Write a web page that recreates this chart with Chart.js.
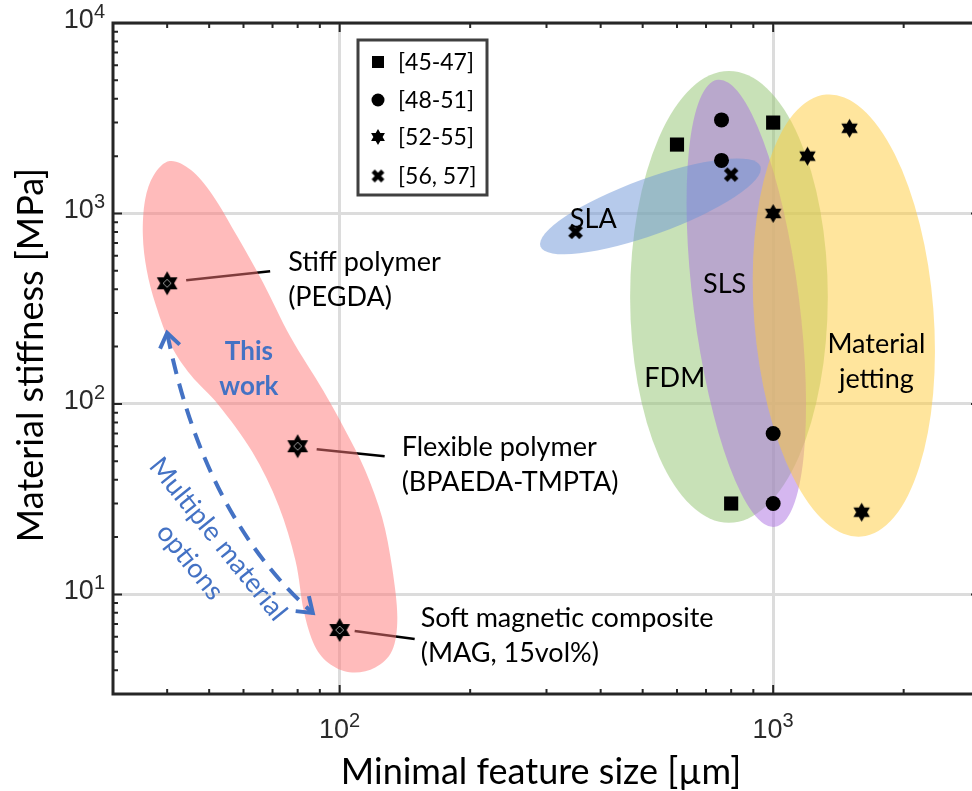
<!DOCTYPE html>
<html lang="en">
<head>
<meta charset="utf-8">
<title>Material stiffness vs minimal feature size</title>
<script src="https://cdn.jsdelivr.net/npm/chart.js@4.4.1/dist/chart.umd.min.js"></script>
<style>
	html, body { margin: 0; padding: 0; background: #fff; overflow: hidden; }
	#contenedor { width: 972px; height: 791px; overflow: hidden; }
	#grafico { display: block; }
</style>
</head>
<body>
<div id="contenedor"><canvas id="grafico" width="990" height="791"></canvas></div>
<script>
// Datos
const cuadrados_x = [600, 1000, 800];
const cuadrados_y = [2300, 3000, 30];
const circulos_x = [760, 760, 1000, 1000];
const circulos_y = [3100, 1900, 70, 30];
const estrellas_x = [1200, 1500, 1000, 1600];
const estrellas_y = [2000, 2800, 1000, 27];
const cruces_x = [800, 350];
const cruces_y = [1600, 800];
const trabajo_x = [40, 80, 100];
const trabajo_y = [430, 60, 6.5];

const leyendaTextos = ['[45-47]', '[48-51]', '[52-55]', '[56, 57]'];
const trabajoTextos = [
	['Stiff polymer', '(PEGDA)'],
	['Flexible polymer', '(BPAEDA-TMPTA)'],
	['Soft magnetic composite', '(MAG, 15vol%)'],
];
const ticksX = [100, 1000];
const ticksY = [10, 100, 1000, 10000];
const tituloX = 'Minimal feature size [µm]';
const tituloY = 'Material stiffness [MPa]';

// Regiones de cada técnica (centro en log10, semiejes en décadas, giro en grados)
const elipses = [
	{ centro: [2.898, 2.562], rx: 0.228, ry: 1.186, giro: 0, color: 'rgba(146, 196, 112, 0.5)' },
	{ centro: [2.938, 2.528], rx: 0.122, ry: 1.183, giro: -7.3, color: 'rgba(172, 112, 226, 0.5)' },
	{ centro: [3.163, 2.464], rx: 0.207, ry: 1.164, giro: -4.5, color: 'rgba(255, 204, 60, 0.5)' },
	{ centro: [2.717, 3.037], rx: 0.27, ry: 0.147, giro: -20, color: 'rgba(110, 150, 215, 0.5)' },
];
const etiquetasRegion = [
	{ texto: 'SLA', pos: [2.585, 2.924] },
	{ texto: 'SLS', pos: [2.888, 2.583] },
	{ texto: 'FDM', pos: [2.773, 2.089] },
	{ texto: 'Material', pos: [3.238, 2.268] },
	{ texto: 'jetting', pos: [3.238, 2.084] },
];

// Contorno de "This work" (log10 x, log10 y)
const contornoRojo = [
	[1.608, 3.275], [1.657, 3.228], [1.707, 3.096], [1.765, 2.875], [1.824, 2.634],
	[1.887, 2.35], [1.962, 2.071], [2.013, 1.861], [2.059, 1.651], [2.098, 1.404],
	[2.121, 1.141], [2.133, 0.879], [2.121, 0.705], [2.082, 0.616], [2.029, 0.59],
	[1.979, 0.632], [1.942, 0.732], [1.917, 0.915], [1.898, 1.178], [1.859, 1.467],
	[1.799, 1.746], [1.721, 1.993], [1.657, 2.15], [1.611, 2.308], [1.576, 2.518],
	[1.555, 2.702], [1.546, 2.886], [1.551, 3.07], [1.571, 3.201],
];
// Flecha discontinua (inicio, control, fin en log10)
const flecha = [[1.602, 2.373], [1.687, 1.407], [1.938, 0.903]];

const azul = '#4472c4';
const fuenteTexto = 'Lato, "Noto Sans", sans-serif';
const fuenteEjes = '"Liberation Sans", Arial, sans-serif';

function puntos(xs, ys) {
	return xs.map((x, i) => ({ x: x, y: ys[i] }));
}

function esDecada(v) {
	const l = Math.log10(v);
	return Math.abs(l - Math.round(l)) < 1e-9;
}

// Marcadores dibujados en canvas aparte
function crearHexagrama(R, conRombo) {
	const c = document.createElement('canvas');
	const s = Math.ceil(2 * R + 4);
	c.width = s;
	c.height = s;
	const g = c.getContext('2d');
	const m = s / 2;
	g.fillStyle = '#000';
	g.beginPath();
	for (let k = 0; k < 12; k++) {
		const r = k % 2 === 0 ? R : R / Math.sqrt(3);
		const a = -Math.PI / 2 + (k * Math.PI) / 6;
		const px = m + r * Math.cos(a);
		const py = m + r * Math.sin(a);
		if (k === 0) g.moveTo(px, py);
		else g.lineTo(px, py);
	}
	g.closePath();
	g.fill();
	if (conRombo) {
		g.strokeStyle = '#9a9a9a';
		g.lineWidth = 1;
		g.beginPath();
		g.moveTo(m, m - 4);
		g.lineTo(m + 4, m);
		g.lineTo(m, m + 4);
		g.lineTo(m - 4, m);
		g.closePath();
		g.stroke();
	}
	return c;
}

function crearCruz(L, ancho) {
	const c = document.createElement('canvas');
	const s = Math.ceil(2 * L + ancho + 2);
	c.width = s;
	c.height = s;
	const g = c.getContext('2d');
	const m = s / 2;
	g.strokeStyle = '#000';
	g.lineWidth = ancho;
	g.beginPath();
	g.moveTo(m - L, m - L);
	g.lineTo(m + L, m + L);
	g.moveTo(m + L, m - L);
	g.lineTo(m - L, m + L);
	g.stroke();
	return c;
}

const imgEstrella = crearHexagrama(9.5, false);
const imgCruz = crearCruz(5.5, 5);
const imgTrabajo = crearHexagrama(12, true);
const imgEstrellaLey = crearHexagrama(8, false);
const imgCruzLey = crearCruz(4.8, 4.5);

function puntaFlecha(ctx, tx, ty, dx, dy, largo, ancho) {
	const a = Math.atan2(ty - dy, tx - dx);
	const c = Math.cos(a);
	const s = Math.sin(a);
	ctx.beginPath();
	ctx.moveTo(tx - largo * c + ancho * s, ty - largo * s - ancho * c);
	ctx.lineTo(tx, ty);
	ctx.lineTo(tx - largo * c - ancho * s, ty - largo * s + ancho * c);
	ctx.stroke();
}

const anotaciones = {
	id: 'anotaciones',
	beforeDatasetsDraw(chart) {
		const { ctx, scales } = chart;
		const px = (l) => scales.x.getPixelForValue(10 ** l);
		const py = (l) => scales.y.getPixelForValue(10 ** l);
		ctx.save();

		// Líneas guía de las etiquetas
		const guias = [
			[19, -3, 103, -12],
			[19, 3, 87, 10],
			[15, 1, 75, 9],
		];
		ctx.strokeStyle = '#000';
		ctx.lineWidth = 2.5;
		trabajo_x.forEach((v, i) => {
			const x0 = scales.x.getPixelForValue(v);
			const y0 = scales.y.getPixelForValue(trabajo_y[i]);
			const g = guias[i];
			ctx.beginPath();
			ctx.moveTo(x0 + g[0], y0 + g[1]);
			ctx.lineTo(x0 + g[2], y0 + g[3]);
			ctx.stroke();
		});

		// Zona roja
		const pts = contornoRojo.map(([lx, ly]) => [px(lx), py(ly)]);
		const n = pts.length;
		ctx.fillStyle = 'rgba(255, 120, 120, 0.5)';
		ctx.beginPath();
		ctx.moveTo(pts[0][0], pts[0][1]);
		for (let i = 0; i < n; i++) {
			const p0 = pts[(i - 1 + n) % n];
			const p1 = pts[i];
			const p2 = pts[(i + 1) % n];
			const p3 = pts[(i + 2) % n];
			ctx.bezierCurveTo(
				p1[0] + (p2[0] - p0[0]) / 6, p1[1] + (p2[1] - p0[1]) / 6,
				p2[0] - (p3[0] - p1[0]) / 6, p2[1] - (p3[1] - p1[1]) / 6,
				p2[0], p2[1]
			);
		}
		ctx.closePath();
		ctx.fill();

		// Elipses de las técnicas
		elipses.forEach((e) => {
			const cx = px(e.centro[0]);
			const cy = py(e.centro[1]);
			const rx = px(e.centro[0] + e.rx) - cx;
			const ry = cy - py(e.centro[1] + e.ry);
			ctx.fillStyle = e.color;
			ctx.beginPath();
			ctx.ellipse(cx, cy, rx, ry, (e.giro * Math.PI) / 180, 0, Math.PI * 2);
			ctx.fill();
		});

		// Flecha discontinua
		const [a, b, c] = flecha.map(([lx, ly]) => [px(lx), py(ly)]);
		ctx.strokeStyle = azul;
		ctx.lineWidth = 4;
		ctx.setLineDash([16, 10]);
		ctx.beginPath();
		ctx.moveTo(a[0], a[1]);
		ctx.quadraticCurveTo(b[0], b[1], c[0], c[1]);
		ctx.stroke();
		ctx.setLineDash([]);
		ctx.lineJoin = 'miter';
		puntaFlecha(ctx, a[0], a[1], b[0], b[1], 14, 10);
		puntaFlecha(ctx, c[0], c[1], b[0], b[1], 14, 10);

		// Textos de las regiones
		ctx.fillStyle = '#000';
		ctx.font = `27px ${fuenteTexto}`;
		ctx.textAlign = 'center';
		ctx.textBaseline = 'alphabetic';
		etiquetasRegion.forEach((t) => {
			ctx.fillText(t.texto, px(t.pos[0]), py(t.pos[1]));
		});

		// Etiquetas de los materiales
		const offs = [
			[121, -12, 23],
			[104, 10, 45],
			[81, -3, 32],
		];
		ctx.textAlign = 'left';
		trabajo_x.forEach((v, i) => {
			const x0 = scales.x.getPixelForValue(v);
			const y0 = scales.y.getPixelForValue(trabajo_y[i]);
			ctx.fillText(trabajoTextos[i][0], x0 + offs[i][0], y0 + offs[i][1]);
			ctx.fillText(trabajoTextos[i][1], x0 + offs[i][0], y0 + offs[i][2]);
		});

		// "This work"
		ctx.fillStyle = azul;
		ctx.textAlign = 'center';
		ctx.font = `bold 26px ${fuenteTexto}`;
		ctx.fillText('This', px(1.7906), py(2.231));
		ctx.fillText('work', px(1.7906), py(2.047));

		// Texto girado
		ctx.font = `27px ${fuenteTexto}`;
		ctx.textBaseline = 'middle';
		ctx.translate(px(1.687), py(1.231));
		ctx.rotate((51 * Math.PI) / 180);
		ctx.fillText('Multiple material', 0, -18);
		ctx.fillText('options', 0, 18);
		ctx.restore();
	},
	afterDraw(chart) {
		const { ctx, chartArea: area, scales } = chart;
		ctx.save();

		// Marco
		ctx.strokeStyle = '#262626';
		ctx.lineWidth = 3;
		ctx.strokeRect(area.left, area.top, area.right - area.left, area.bottom - area.top);

		// Marcas de escala
		ctx.lineWidth = 2;
		ctx.beginPath();
		[10, 100, 1000].forEach((d) => {
			for (let m = 1; m < 10; m++) {
				const v = m * d;
				if (v <= scales.x.min || v >= scales.x.max) continue;
				const xp = scales.x.getPixelForValue(v);
				const L = m === 1 ? 9 : 5;
				ctx.moveTo(xp, area.bottom);
				ctx.lineTo(xp, area.bottom - L);
				ctx.moveTo(xp, area.top);
				ctx.lineTo(xp, area.top + L);
			}
		});
		[1, 10, 100, 1000].forEach((d) => {
			for (let m = 1; m < 10; m++) {
				const v = m * d;
				if (v <= scales.y.min || v >= scales.y.max) continue;
				const yp = scales.y.getPixelForValue(v);
				const L = m === 1 ? 9 : 5;
				ctx.moveTo(area.left, yp);
				ctx.lineTo(area.left + L, yp);
				ctx.moveTo(area.right, yp);
				ctx.lineTo(area.right - L, yp);
			}
		});
		ctx.stroke();

		// Etiquetas 10^n
		ctx.fillStyle = '#2a2a2a';
		ctx.textBaseline = 'alphabetic';
		ctx.textAlign = 'left';
		const base = `27px ${fuenteEjes}`;
		const expo = `20px ${fuenteEjes}`;
		const medir = (e) => {
			ctx.font = base;
			const w1 = ctx.measureText('10').width;
			ctx.font = expo;
			const w2 = ctx.measureText(e).width;
			return [w1, w2];
		};
		ticksX.forEach((v) => {
			const e = String(Math.round(Math.log10(v)));
			const [w1, w2] = medir(e);
			const x0 = scales.x.getPixelForValue(v) - (w1 + w2) / 2;
			ctx.font = base;
			ctx.fillText('10', x0, 738);
			ctx.font = expo;
			ctx.fillText(e, x0 + w1, 727);
		});
		ticksY.forEach((v) => {
			const e = String(Math.round(Math.log10(v)));
			const [w1, w2] = medir(e);
			const yp = scales.y.getPixelForValue(v);
			const x0 = 105 - w1 - w2;
			ctx.font = base;
			ctx.fillText('10', x0, yp + 5);
			ctx.font = expo;
			ctx.fillText(e, x0 + w1, yp - 5);
		});

		// Títulos
		ctx.fillStyle = '#000';
		ctx.font = `36px ${fuenteTexto}`;
		ctx.textAlign = 'center';
		ctx.fillText(tituloX, 541, 784);
		ctx.translate(43, 355);
		ctx.rotate(-Math.PI / 2);
		ctx.fillText(tituloY, 0, 0);
		ctx.setTransform(chart.currentDevicePixelRatio, 0, 0, chart.currentDevicePixelRatio, 0, 0);

		// Leyenda
		const lx = area.left + 245;
		const ly = area.top + 17;
		ctx.fillStyle = '#fff';
		ctx.fillRect(lx, ly, 129, 155);
		ctx.strokeStyle = '#404040';
		ctx.lineWidth = 3;
		ctx.strokeRect(lx, ly, 129, 155);
		const filas = [22, 60, 97, 136];
		ctx.fillStyle = '#000';
		ctx.fillRect(lx + 20 - 6, ly + filas[0] - 6, 12, 12);
		ctx.beginPath();
		ctx.arc(lx + 20, ly + filas[1], 6.5, 0, Math.PI * 2);
		ctx.fill();
		ctx.drawImage(imgEstrellaLey, lx + 20 - imgEstrellaLey.width / 2, ly + filas[2] - imgEstrellaLey.height / 2);
		ctx.drawImage(imgCruzLey, lx + 20 - imgCruzLey.width / 2, ly + filas[3] - imgCruzLey.height / 2);
		ctx.fillStyle = '#000';
		ctx.font = `23px ${fuenteTexto}`;
		ctx.textAlign = 'left';
		ctx.textBaseline = 'middle';
		leyendaTextos.forEach((t, i) => {
			ctx.fillText(t, lx + 40, ly + filas[i] + 1);
		});
		ctx.restore();
	},
};

const colorGrid = (c) => (c.tick && esDecada(c.tick.value) ? '#dcdcdc' : 'rgba(0,0,0,0)');

new Chart(document.getElementById('grafico'), {
	type: 'scatter',
	data: {
		datasets: [
			{
				label: leyendaTextos[0],
				data: puntos(cuadrados_x, cuadrados_y),
				pointStyle: 'rect',
				pointRadius: 10,
				pointBackgroundColor: '#000',
				pointBorderWidth: 0,
			},
			{
				label: leyendaTextos[1],
				data: puntos(circulos_x, circulos_y),
				pointStyle: 'circle',
				pointRadius: 7.5,
				pointBackgroundColor: '#000',
				pointBorderWidth: 0,
			},
			{
				label: leyendaTextos[2],
				data: puntos(estrellas_x, estrellas_y),
				pointStyle: imgEstrella,
			},
			{
				label: leyendaTextos[3],
				data: puntos(cruces_x, cruces_y),
				pointStyle: imgCruz,
			},
			{
				label: 'This work',
				data: puntos(trabajo_x, trabajo_y),
				pointStyle: imgTrabajo,
			},
		],
	},
	options: {
		responsive: false,
		animation: false,
		events: [],
		layout: { padding: { left: 113, top: 23, right: 9, bottom: 97 } },
		plugins: {
			legend: { display: false },
			tooltip: { enabled: false },
		},
		scales: {
			x: {
				type: 'logarithmic',
				min: 30,
				max: 3000,
				ticks: { display: false },
				border: { display: false },
				grid: { drawTicks: false, lineWidth: 3, color: colorGrid },
			},
			y: {
				type: 'logarithmic',
				min: 3,
				max: 10000,
				ticks: { display: false },
				border: { display: false },
				grid: { drawTicks: false, lineWidth: 3, color: colorGrid },
			},
		},
	},
	plugins: [anotaciones],
});
</script>
</body>
</html>
